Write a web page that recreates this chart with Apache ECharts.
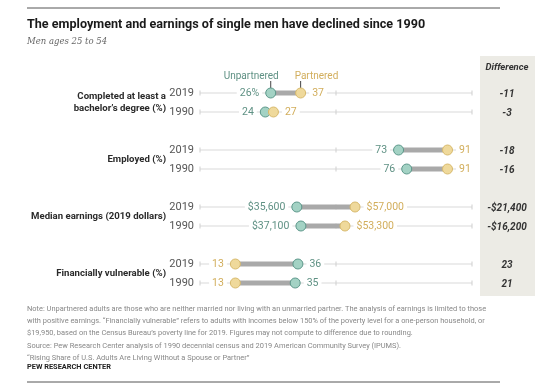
<!DOCTYPE html>
<html>
<head>
<meta charset="utf-8">
<script src="https://cdn.jsdelivr.net/npm/echarts@6/dist/echarts.min.js"></script>
<style>html,body{margin:0;padding:0;background:#fff}#c{width:560px;height:389px}</style>
</head>
<body>
<div id="c"></div>
<script>
const groupLabels = ['Completed at least a\nbachelor\u2019s degree (%)', 'Employed (%)', 'Median earnings (2019 dollars)', 'Financially vulnerable (%)'];
const years = ['2019', '1990'];
const unpartnered = [26, 24, 73, 76, 35600, 37100, 36, 35];
const partnered = [37, 27, 91, 91, 57000, 53300, 13, 13];
const unpartneredLabels = ['26%', '24', '73', '76', '$35,600', '$37,100', '36', '35'];
const partneredLabels = ['37', '27', '91', '91', '$57,000', '$53,300', '13', '13'];
const differences = ['-11', '-3', '-18', '-16', '-$21,400', '-$16,200', '23', '21'];
const axisTicks = [0, 50, 100];
const earningsGroup = 2; // dollars shown in thousands on the shared 0-100 axis

const FONT = 'Roboto, "Liberation Sans", Arial, sans-serif';
const TEAL_FILL = '#a3d2c4', TEAL_LINE = '#5c978a', TEAL_TEXT = '#5f9184';
const GOLD_FILL = '#efd99b', GOLD_LINE = '#d7b96c', GOLD_TEXT = '#d2ae5c';

// build category slots (with blank spacer rows)
const cats = [];
const rows = []; // {row, g, k, i}
groupLabels.forEach((gl, g) => {
  years.forEach((y, k) => {
    rows.push({ row: cats.length, g, k, i: g * 2 + k });
    cats.push('r' + g + '_' + y);
  });
  if (g < groupLabels.length - 1) cats.push('sp' + g);
});
const scaleVal = (v, i) => (Math.floor(i / 2) === earningsGroup ? v / 1000 : v);

const upData = rows.map(r => [scaleVal(unpartnered[r.i], r.i), r.row, r.i]);
const ptData = rows.map(r => [scaleVal(partnered[r.i], r.i), r.row, r.i]);
const rowData = rows.map(r => [0, r.row, r.i, r.g, r.k]);

const chart = echarts.init(document.getElementById('c'), null, { renderer: 'canvas' });

function labelFor(series, i) {
  const u = upData[i][0], p = ptData[i][0];
  const isUp = series === 'up';
  const mine = isUp ? u : p, other = isUp ? p : u;
  return {
    show: true,
    position: mine <= other ? 'left' : 'right',
    distance: 3,
    formatter: () => (isUp ? unpartneredLabels[i] : partneredLabels[i]),
    color: isUp ? TEAL_TEXT : GOLD_TEXT,
    fontSize: 10.5,
    fontFamily: FONT,
    backgroundColor: '#fff',
    padding: [0, 3]
  };
}

const option = {
  animation: false,
  title: {
    text: 'The employment and earnings of single men have declined since 1990',
    subtext: 'Men ages 25 to 54',
    left: 27, top: 18, padding: 0,
    itemGap: 6,
    textStyle: { fontFamily: FONT, fontSize: 12.6, fontWeight: 'bold', color: '#1a1a1a' },
    subtextStyle: { fontFamily: '"DejaVu Serif", "Liberation Serif", serif', fontStyle: 'italic', fontSize: 8.5, color: '#666' }
  },
  grid: { left: 200, right: 88, top: 83.5, height: 209 },
  xAxis: {
    type: 'value', min: 0, max: 100, interval: 50,
    show: false
  },
  yAxis: {
    type: 'category', data: cats, inverse: true,
    axisLine: { show: false }, axisTick: { show: false }, splitLine: { show: false },
    axisLabel: {
      margin: 6, fontSize: 11, fontFamily: FONT, color: '#555',
      formatter: v => (v.startsWith('r') ? v.split('_')[1] : '')
    }
  },
  graphic: [
    { type: 'line', shape: { x1: 27, y1: 8, x2: 500, y2: 8 }, style: { stroke: '#555', lineWidth: 1 } },
    { type: 'rect', z: -10, shape: { x: 480, y: 56, width: 55, height: 240 }, style: { fill: '#ecebe5' } },
    { type: 'text', x: 507, y: 68, style: { text: 'Difference', fontFamily: FONT, fontSize: 9.5, fontWeight: 'bold', fontStyle: 'italic', fill: '#333', textAlign: 'center', textVerticalAlign: 'middle' } },
    { type: 'text', x: 27, y: 303, style: {
      text: 'Note: Unpartnered adults are those who are neither married nor living with an unmarried partner. The analysis of earnings is limited to those\nwith positive earnings. \u201cFinancially vulnerable\u201d refers to adults with incomes below 150% of the poverty level for a one-person household, or\n$19,950, based on the Census Bureau\u2019s poverty line for 2019. Figures may not compute to difference due to rounding.\nSource: Pew Research Center analysis of 1990 decennial census and 2019 American Community Survey (IPUMS).\n\u201cRising Share of U.S. Adults Are Living Without a Spouse or Partner\u201d',
      fontFamily: FONT, fontSize: 7.45, lineHeight: 12.2, fill: '#888' } },
    { type: 'text', x: 27, y: 363.5, style: { text: 'PEW RESEARCH CENTER', fontFamily: FONT, fontSize: 7.4, fontWeight: 'bold', fill: '#222' } },
    { type: 'line', shape: { x1: 27, y1: 382, x2: 500, y2: 382 }, style: { stroke: '#555', lineWidth: 1 } }
  ],
  series: [
    {
      type: 'custom', name: 'rows', z: 1, silent: true,
      data: rowData,
      renderItem: (params, api) => {
        const row = api.value(1), i = api.value(2), g = api.value(3), k = api.value(4);
        const y = api.coord([0, row])[1];
        const x0 = api.coord([axisTicks[0], row])[0];
        const x1 = api.coord([axisTicks[axisTicks.length - 1], row])[0];
        const children = [
          { type: 'line', shape: { x1: x0, y1: y, x2: x1, y2: y }, style: { stroke: '#d9d9d9', lineWidth: 1 } }
        ];
        axisTicks.forEach(t => {
          const xt = api.coord([t, row])[0];
          children.push({ type: 'line', shape: { x1: xt, y1: y - 2.5, x2: xt, y2: y + 2.5 }, style: { stroke: '#cfcfcf', lineWidth: 1 } });
        });
        // connector bar
        const a = api.coord([upData[i][0], row])[0], b = api.coord([ptData[i][0], row])[0];
        children.push({ type: 'rect', shape: { x: Math.min(a, b), y: y - 2.5, width: Math.abs(b - a), height: 5 }, style: { fill: '#a9a9a9' }, z2: 5 });
        // difference value
        children.push({ type: 'text', x: 507, y: y + 1, style: { text: differences[i], fontFamily: FONT, fontSize: 10, fontWeight: 'bold', fontStyle: 'italic', fill: '#333', textAlign: 'center', textVerticalAlign: 'middle' } });
        // group label
        if (k === 0) {
          const yNext = api.coord([0, row + 1])[1];
          children.push({ type: 'text', x: 166, y: (y + yNext) / 2, style: { text: groupLabels[g], fontFamily: FONT, fontSize: 9.6, fontWeight: 'bold', fill: '#2a2a2a', textAlign: 'right', textVerticalAlign: 'middle', lineHeight: 12 } });
        }
        // legend callouts
        if (i === 0) {
          const yt = y - 17;
          children.push({ type: 'line', shape: { x1: a, y1: y - 12, x2: a, y2: y - 5 }, style: { stroke: '#444', lineWidth: 1 } });
          children.push({ type: 'line', shape: { x1: b, y1: y - 12, x2: b, y2: y - 5 }, style: { stroke: '#444', lineWidth: 1 } });
          children.push({ type: 'text', x: a + 8, y: yt, style: { text: 'Unpartnered', fontFamily: FONT, fontSize: 10, fill: TEAL_TEXT, textAlign: 'right', textVerticalAlign: 'middle' } });
          children.push({ type: 'text', x: b - 6, y: yt, style: { text: 'Partnered', fontFamily: FONT, fontSize: 10, fill: GOLD_TEXT, textAlign: 'left', textVerticalAlign: 'middle' } });
        }
        return { type: 'group', children };
      }
    },
    {
      type: 'scatter', name: 'Unpartnered', z: 3,
      symbolSize: 10,
      data: upData.map((d, i) => ({ value: d, label: labelFor('up', i) })),
      itemStyle: { color: TEAL_FILL, borderColor: TEAL_LINE, borderWidth: 1, opacity: 1 }
    },
    {
      type: 'scatter', name: 'Partnered', z: 4,
      symbolSize: 10,
      data: ptData.map((d, i) => ({ value: d, label: labelFor('pt', i) })),
      itemStyle: { color: GOLD_FILL, borderColor: GOLD_LINE, borderWidth: 1, opacity: 1 }
    }
  ]
};
chart.setOption(option);
</script>
</body>
</html>
